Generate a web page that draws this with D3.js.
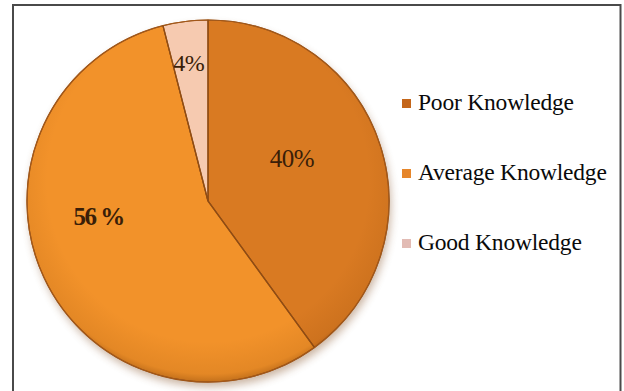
<!DOCTYPE html>
<html>
<head>
<meta charset="utf-8">
<script src="https://cdn.jsdelivr.net/npm/d3@7/dist/d3.min.js"></script>
<style>
  html, body { margin: 0; padding: 0; background: #ffffff; }
  svg { display: block; }
</style>
</head>
<body>
<svg id="chart" width="624" height="391"></svg>
<script>
// ---- data ----
const categories = ["Poor Knowledge", "Average Knowledge", "Good Knowledge"];
const values = [40, 56, 4];
const valueLabels = ["40%", "56 %", "4%"];

// ---- layout / style ----
const cx = 208, cy = 201, R = 181;
const colors = ["#D97A22", "#F2922A", "#F6CAB0"];
const legendSwatch = ["#C4661A", "#E6862A", "#E2BBB4"];
// label placement: angle offset (deg) from slice mid, radius fraction, weight
const labelLayout = [
  { dAngle: -9, rFrac: 0.52, weight: "normal", size: 25 },
  { dAngle: 17, rFrac: 0.61, weight: "bold", size: 25 },
  { dAngle: -0.7, rFrac: 0.77, weight: "normal", size: 24 }
];

const svg = d3.select("#chart");
const defs = svg.append("defs");

const f = defs.append("filter").attr("id", "shadow")
  .attr("x", "-20%").attr("y", "-20%").attr("width", "140%").attr("height", "140%");
f.append("feGaussianBlur").attr("stdDeviation", 4);

const rg = defs.append("radialGradient").attr("id", "rim")
  .attr("gradientUnits", "userSpaceOnUse")
  .attr("cx", cx).attr("cy", cy - 20).attr("r", R + 20);
rg.append("stop").attr("offset", "0.80").attr("stop-color", "#7a3a00").attr("stop-opacity", 0);
rg.append("stop").attr("offset", "0.96").attr("stop-color", "#7a3a00").attr("stop-opacity", 0.12);
rg.append("stop").attr("offset", "1").attr("stop-color", "#6a3000").attr("stop-opacity", 0.35);

// frame
svg.append("rect")
  .attr("x", 13).attr("y", 5)
  .attr("width", 607.5).attr("height", 400)
  .attr("fill", "#ffffff")
  .attr("stroke", "#4a4a4a").attr("stroke-width", 2);

const pie = d3.pie().sort(null).value(d => d)(values);
const arc = d3.arc().innerRadius(0).outerRadius(R);

const g = svg.append("g").attr("transform", `translate(${cx},${cy})`);

// soft shadow under the pie
g.append("circle")
  .attr("cx", 2).attr("cy", 5).attr("r", R)
  .attr("fill", "#8a5a30").attr("opacity", 0.45)
  .attr("filter", "url(#shadow)");

g.selectAll("path.slice")
  .data(pie)
  .join("path")
  .attr("class", "slice")
  .attr("d", arc)
  .attr("fill", (d, i) => colors[i])
  .attr("stroke", "#9a5418")
  .attr("stroke-width", 1.2)
  .attr("stroke-linejoin", "round");

// rim shading
g.append("circle").attr("r", R).attr("transform", `translate(${-cx},${-cy})`)
  .attr("cx", cx).attr("cy", cy)
  .attr("fill", "url(#rim)");
g.append("circle").attr("r", R)
  .attr("fill", "none").attr("stroke", "#a2581a").attr("stroke-width", 1.2);

// slice dividers
g.append("g").selectAll("path")
  .data(pie)
  .join("path")
  .attr("d", d => {
    const p = d3.path();
    p.moveTo(0, 0);
    p.lineTo(R * Math.sin(d.startAngle), -R * Math.cos(d.startAngle));
    return p.toString();
  })
  .attr("stroke", "#8f4c14")
  .attr("stroke-width", 1.3)
  .attr("fill", "none");

// labels
g.append("g").selectAll("text")
  .data(pie)
  .join("text")
  .attr("transform", (d, i) => {
    const a = (d.startAngle + d.endAngle) / 2 + labelLayout[i].dAngle * Math.PI / 180;
    const r = R * labelLayout[i].rFrac;
    return `translate(${r * Math.sin(a)},${-r * Math.cos(a)})`;
  })
  .attr("text-anchor", "middle")
  .attr("dominant-baseline", "central")
  .attr("font-family", "'Liberation Serif', 'Times New Roman', serif")
  .attr("font-size", (d, i) => labelLayout[i].size)
  .attr("font-weight", (d, i) => labelLayout[i].weight)
  .attr("letter-spacing", (d, i) => i === 1 ? -1.5 : -0.5)
  .attr("fill", "#3a1e08")
  .text((d, i) => valueLabels[i]);

// legend
const legendX = 402, legendY0 = 110, legendStep = 70;
const items = svg.append("g").selectAll("g")
  .data(categories)
  .join("g")
  .attr("transform", (d, i) => `translate(${legendX},${legendY0 + i * legendStep})`);
items.append("rect")
  .attr("x", 0).attr("y", -11)
  .attr("width", 9).attr("height", 9)
  .attr("fill", (d, i) => legendSwatch[i]);
items.append("text")
  .attr("x", 16).attr("y", 0)
  .attr("font-family", "'Liberation Serif', 'Times New Roman', serif")
  .attr("font-size", 23.5)
  .attr("letter-spacing", -0.2)
  .attr("fill", "#0a0a0a")
  .text(d => d);
</script>
</body>
</html>
